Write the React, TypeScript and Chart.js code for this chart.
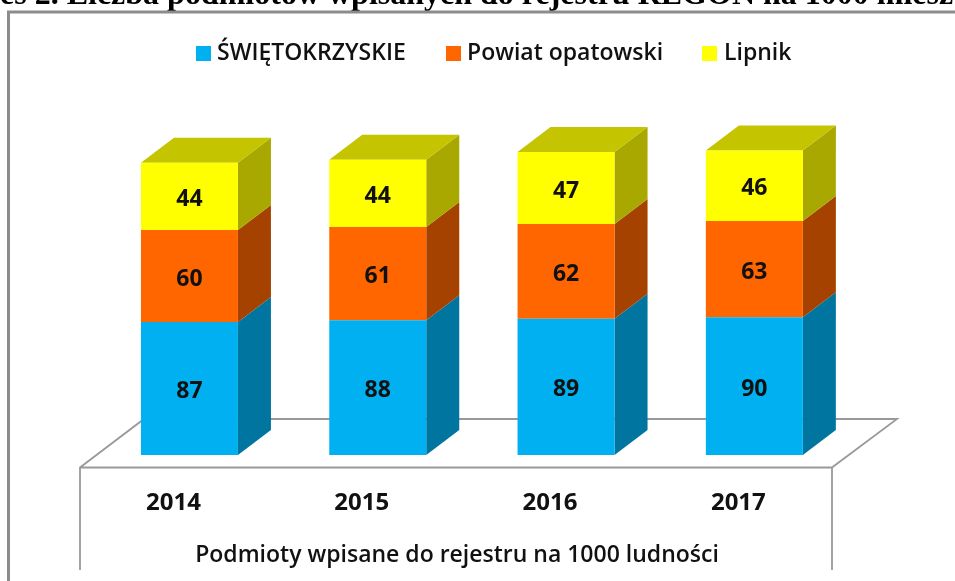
import React, { useEffect, useRef } from "react";
import { Chart, registerables } from "chart.js";

Chart.register(...registerables);

const categories = ["2014", "2015", "2016", "2017"];
const swietokrzyskie = [87, 88, 89, 90];
const powiatOpatowski = [60, 61, 62, 63];
const lipnik = [44, 44, 47, 46];

const heading = "es 2. Liczba podmiotów wpisanych do rejestru REGON na 1000 miesz";
const axisTitle = "Podmioty wpisane do rejestru na 1000 ludności";
const FONT = "'Open Sans', Lato, sans-serif";

const FACE = ["#00B0F0", "#FF6600", "#FFFF00"];
const SIDE = ["#0075A0", "#A64200", "#A8A800"];
const TOP = "#C4C400";
const DX = 33;
const DY = 25;
const LEGEND_BOX_X = [196, 446, 702];
const LEGEND_TEXT_X = [217, 467, 724];
const LEGEND_Y = 53;

const depthPlugin = {
  id: "depth",
  beforeDatasetsDraw(chart: any) {
    const { ctx } = chart;
    ctx.save();
    // heading
    ctx.fillStyle = "#000";
    ctx.font = "bold 32px 'Liberation Serif', serif";
    ctx.textAlign = "left";
    ctx.textBaseline = "alphabetic";
    ctx.fillText(heading, 0, 4);
    // outer frame
    ctx.strokeStyle = "#8C8C8C";
    ctx.lineWidth = 3;
    ctx.beginPath();
    ctx.moveTo(8.5, 581);
    ctx.lineTo(8.5, 12);
    ctx.lineTo(955, 12);
    ctx.stroke();
    // floor
    ctx.strokeStyle = "#999999";
    ctx.lineWidth = 1.8;
    ctx.beginPath();
    ctx.moveTo(80, 570);
    ctx.lineTo(80, 467.5);
    ctx.lineTo(144, 419);
    ctx.lineTo(897, 419);
    ctx.lineTo(832, 467.5);
    ctx.lineTo(832, 570);
    ctx.moveTo(80, 467.5);
    ctx.lineTo(832, 467.5);
    ctx.stroke();
    // legend
    chart.data.datasets.forEach((ds: any, di: number) => {
      ctx.fillStyle = FACE[di];
      ctx.fillRect(LEGEND_BOX_X[di], LEGEND_Y - 7, 15, 15);
      ctx.fillStyle = "#111";
      ctx.font = `600 23px ${FONT}`;
      ctx.textBaseline = "middle";
      ctx.textAlign = "left";
      ctx.fillText(ds.label, LEGEND_TEXT_X[di], LEGEND_Y);
    });
    // axis title
    ctx.fillStyle = "#111";
    ctx.font = `600 23px ${FONT}`;
    ctx.textAlign = "center";
    ctx.fillText(axisTitle, 457, 555);
    // side and top faces
    chart.data.datasets.forEach((_: any, di: number) => {
      chart.getDatasetMeta(di).data.forEach((bar: any) => {
        const r = bar.x + bar.width / 2;
        const l = bar.x - bar.width / 2;
        ctx.fillStyle = SIDE[di];
        ctx.beginPath();
        ctx.moveTo(r, bar.base);
        ctx.lineTo(r + DX, bar.base - DY);
        ctx.lineTo(r + DX, bar.y - DY);
        ctx.lineTo(r, bar.y);
        ctx.closePath();
        ctx.fill();
        if (di === chart.data.datasets.length - 1) {
          ctx.fillStyle = TOP;
          ctx.beginPath();
          ctx.moveTo(l, bar.y);
          ctx.lineTo(l + DX, bar.y - DY);
          ctx.lineTo(r + DX, bar.y - DY);
          ctx.lineTo(r, bar.y);
          ctx.closePath();
          ctx.fill();
        }
      });
    });
    ctx.restore();
  },
  afterDatasetsDraw(chart: any) {
    const { ctx } = chart;
    ctx.save();
    ctx.fillStyle = "#111";
    ctx.font = `bold 23px ${FONT}`;
    ctx.textAlign = "center";
    ctx.textBaseline = "middle";
    chart.data.datasets.forEach((ds: any, di: number) => {
      chart.getDatasetMeta(di).data.forEach((bar: any, i: number) => {
        ctx.fillText(String(ds.data[i]), bar.x, (bar.y + bar.base) / 2 + 3);
      });
    });
    ctx.restore();
  },
};

export default function App() {
  const ref = useRef<HTMLCanvasElement>(null);
  useEffect(() => {
    document.body.style.margin = "0";
    const chart = new Chart(ref.current!, {
      type: "bar",
      data: {
        labels: categories,
        datasets: [
          { label: "ŚWIĘTOKRZYSKIE", data: swietokrzyskie, backgroundColor: FACE[0] },
          { label: "Powiat opatowski", data: powiatOpatowski, backgroundColor: FACE[1] },
          { label: "Lipnik", data: lipnik, backgroundColor: FACE[2] },
        ],
      },
      plugins: [depthPlugin],
      options: {
        responsive: false,
        animation: false,
        layout: { padding: { left: 95.3, right: 106.5, top: 72.5, bottom: 0 } },
        datasets: { bar: { categoryPercentage: 1, barPercentage: 97 / 188.3 } },
        plugins: {
          tooltip: { enabled: false },
          legend: { display: false },
        },
        scales: {
          x: {
            stacked: true,
            grid: { display: false },
            border: { display: false },
            afterFit(scale: any) {
              scale.height = 126;
            },
            ticks: {
              color: "#111",
              padding: 26,
              labelOffset: -16,
              font: { family: FONT, size: 24, weight: "bold" },
            },
          },
          y: {
            display: false,
            stacked: true,
            min: 0,
            max: 250,
          },
        },
      },
    } as any);
    return () => chart.destroy();
  }, []);
  return <canvas ref={ref} width={955} height={581} style={{ display: "block" }} />;
}
